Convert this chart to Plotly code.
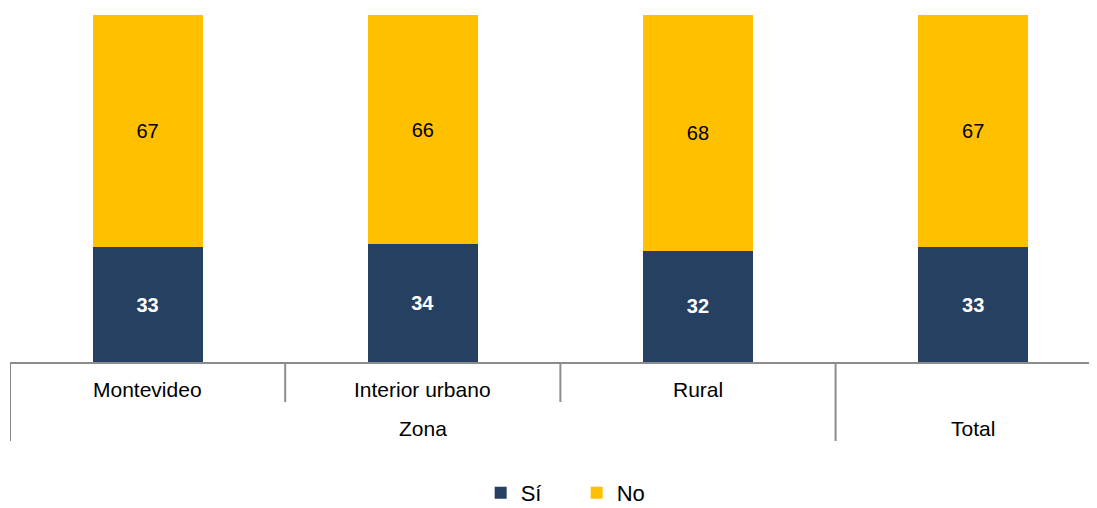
import plotly.graph_objects as go

categories = ["Montevideo", "Interior urbano", "Rural", "Total"]
groups = ["Zona", "Zona", "Zona", "Total"]
si_values = [33, 34, 32, 33]
no_values = [67, 66, 68, 67]
series_names = ["Sí", "No"]
colors = ["#264061", "#FFC000"]

FONT = "Liberation Sans, Arial, sans-serif"
xs = list(range(len(categories)))

fig = go.Figure()
fig.add_trace(go.Bar(
    x=xs, y=si_values, name=series_names[0], marker=dict(color=colors[0], line=dict(width=0)),
    width=0.4, text=[str(v) for v in si_values], textposition="inside", insidetextanchor="middle",
    textfont=dict(family=FONT, size=20, color="white", weight="bold"), textangle=0,
))
fig.add_trace(go.Bar(
    x=xs, y=no_values, name=series_names[1], marker=dict(color=colors[1], line=dict(width=0)),
    width=0.4, text=[str(v) for v in no_values], textposition="inside", insidetextanchor="middle",
    textfont=dict(family=FONT, size=20, color="black"), textangle=0,
))

# Inner category labels
annotations = []
for i, c in enumerate(categories):
    if c == "Total":
        continue
    annotations.append(dict(x=i, y=0, xref="x", yref="paper", text=c, showarrow=False,
                            yshift=-27, yanchor="middle", font=dict(family=FONT, size=21, color="black")))
# Outer group labels
uniq = []
for g in groups:
    if g not in uniq:
        uniq.append(g)
for g in uniq:
    idx = [i for i, gg in enumerate(groups) if gg == g]
    center = (min(idx) + max(idx)) / 2
    annotations.append(dict(x=center, y=0, xref="x", yref="paper", text=g, showarrow=False,
                            yshift=-66, yanchor="middle", font=dict(family=FONT, size=21, color="black")))

# Divider lines
shapes = []
plot_h = 347.0
for i in range(len(categories)):
    left = i - 0.5
    is_group_start = (i == 0) or (groups[i] != groups[i - 1])
    depth = 79 if is_group_start else 40
    shapes.append(dict(type="line", xref="x", yref="paper", x0=left, x1=left, y0=0, y1=-depth / plot_h,
                       line=dict(color="#8C8C8C", width=2)))

# page body has an 8px margin; the figure is sized/positioned to compensate
fig.update_layout(
    width=1089, height=500,
    margin=dict(l=2, r=0, t=7, b=146),
    barmode="stack",
    plot_bgcolor="white", paper_bgcolor="white",
    showlegend=True,
    legend=dict(orientation="h", x=0.433, xanchor="left", xref="paper",
                y=0.03, yanchor="middle", yref="container",
                traceorder="normal",
                font=dict(family=FONT, size=22, color="black"), entrywidth=51,
                itemclick=False, itemdoubleclick=False),
    xaxis=dict(range=[-0.5, 3.45], showticklabels=False, showgrid=False, zeroline=False,
               showline=True, linecolor="#8C8C8C", linewidth=2, ticks="", fixedrange=True),
    yaxis=dict(range=[0, 100], visible=False, showgrid=False, zeroline=False, fixedrange=True),
    annotations=annotations,
    shapes=shapes,
    uniformtext=dict(mode=False),
)

fig.write_html("out.html")
